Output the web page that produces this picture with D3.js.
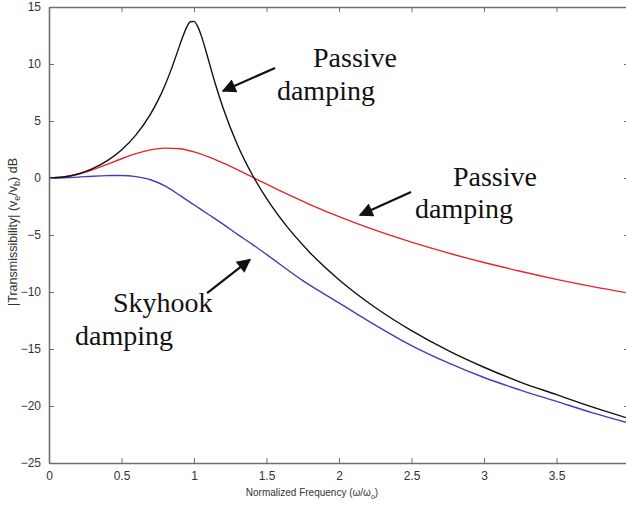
<!DOCTYPE html>
<html>
<head>
<meta charset="utf-8">
<script src="https://cdn.jsdelivr.net/npm/d3@7"></script>
<style>
  body { margin: 0; background: #fff; }
  svg { display: block; }
</style>
</head>
<body>
<div id="chart"></div>
<script>
const width = 626;
const height = 505;

// normalized frequency (omega / omega_0) and transmissibility in dB
const passiveLightFreq = [0, 0.1, 0.2, 0.3, 0.4, 0.5, 0.6, 0.7, 0.75, 0.8, 0.85, 0.9, 0.925, 0.95, 0.975, 1.0,
  1.025, 1.05, 1.075, 1.1, 1.15, 1.2, 1.3, 1.4, 1.5, 1.6, 1.8, 2.0, 2.25, 2.5, 2.75, 3.0, 3.25, 3.5, 3.75, 4.0];
const passiveLightDb = [0, 0.09, 0.35, 0.82, 1.5, 2.46, 3.78, 5.6, 6.76, 8.14, 9.77, 11.59, 12.48, 13.24, 13.71, 13.74,
  13.3, 12.49, 11.46, 10.34, 8.14, 6.17, 2.9, 0.33, -1.79, -3.59, -6.55, -8.92, -11.36, -13.39, -15.12, -16.6, -17.9, -19.0, -20.1, -21.1];

const passiveHeavyFreq = [0, 0.1, 0.2, 0.3, 0.4, 0.5, 0.6, 0.7, 0.8, 0.9, 1.0, 1.1, 1.2, 1.4, 1.6, 1.8, 2.0,
  2.25, 2.5, 2.75, 3.0, 3.25, 3.5, 3.75, 4.0];
const passiveHeavyDb = [0, 0.09, 0.33, 0.72, 1.19, 1.69, 2.14, 2.47, 2.62, 2.56, 2.29, 1.86, 1.32, 0.09, -1.16, -2.33, -3.39,
  -4.58, -5.63, -6.57, -7.41, -8.18, -8.89, -9.53, -10.1];

const skyhookFreq = [0, 0.1, 0.2, 0.3, 0.4, 0.5, 0.6, 0.7, 0.8, 0.9, 1.0, 1.1, 1.2, 1.3, 1.4, 1.5, 1.75, 2.0,
  2.25, 2.5, 2.75, 3.0, 3.25, 3.5, 3.75, 4.0];
const skyhookDb = [0, 0.02, 0.08, 0.16, 0.21, 0.22, 0.12, -0.15, -0.7, -1.5, -2.35, -3.2, -4.05, -4.95, -5.8, -6.7, -9.0, -10.95,
  -12.9, -14.7, -16.2, -17.5, -18.6, -19.6, -20.6, -21.5];

const xTicks = [0, 0.5, 1, 1.5, 2, 2.5, 3, 3.5];
const yTicks = [15, 10, 5, 0, -5, -10, -15, -20, -25];

const x = d3.scaleLinear().domain([0, 4]).range([49, 629]);
const y = d3.scaleLinear().domain([-25, 15]).range([463, 7]);

const svg = d3.select("#chart").append("svg")
  .attr("width", width)
  .attr("height", height);

svg.append("defs").append("clipPath")
  .attr("id", "plot-clip")
  .append("rect")
    .attr("x", x(0))
    .attr("y", y(15))
    .attr("width", x(4) - x(0))
    .attr("height", y(-25) - y(15));

const marker = svg.select("defs").append("marker")
  .attr("id", "arrowhead")
  .attr("viewBox", "0 0 10 10")
  .attr("refX", 9)
  .attr("refY", 5)
  .attr("markerUnits", "userSpaceOnUse")
  .attr("markerWidth", 17)
  .attr("markerHeight", 14)
  .attr("orient", "auto");
marker.append("path")
  .attr("d", "M0,0 L10,5 L0,10 z")
  .attr("fill", "#111");

const axisColor = "#6f6f6f";

// curves
const line = d3.line()
  .x(d => x(d[0]))
  .y(d => y(d[1]))
  .curve(d3.curveMonotoneX);

const series = [
  { freq: passiveHeavyFreq, db: passiveHeavyDb, color: "#e3262c" },
  { freq: skyhookFreq, db: skyhookDb, color: "#3f3fb8" },
  { freq: passiveLightFreq, db: passiveLightDb, color: "#111" }
];

svg.append("g")
  .attr("clip-path", "url(#plot-clip)")
  .selectAll("path")
  .data(series)
  .join("path")
    .attr("fill", "none")
    .attr("stroke", d => d.color)
    .attr("stroke-width", 1.4)
    .attr("d", d => line(d.freq.map((f, i) => [f, d.db[i]])));

// axes, MATLAB style box with inward ticks
const bottomAxis = svg.append("g")
  .attr("transform", `translate(0,${y(-25)})`)
  .call(d3.axisBottom(x).tickValues(xTicks).tickSizeInner(-5).tickSizeOuter(0).tickPadding(8).tickFormat(d3.format("")));
const topAxis = svg.append("g")
  .attr("transform", `translate(0,${y(15)})`)
  .call(d3.axisTop(x).tickValues(xTicks).tickSizeInner(-5).tickSizeOuter(0).tickFormat(""));
const leftAxis = svg.append("g")
  .attr("transform", `translate(${x(0)},0)`)
  .call(d3.axisLeft(y).tickValues(yTicks).tickSizeInner(-5).tickSizeOuter(0).tickPadding(8).tickFormat(d3.format("")));
const rightAxis = svg.append("g")
  .attr("transform", `translate(${x(4)},0)`)
  .call(d3.axisRight(y).tickValues(yTicks).tickSizeInner(-5).tickSizeOuter(0).tickFormat(""));

[bottomAxis, topAxis, leftAxis, rightAxis].forEach(g => {
  g.select(".domain").attr("stroke", axisColor).attr("stroke-width", 1.6);
  g.selectAll(".tick line").attr("stroke", axisColor).attr("stroke-width", 1);
  g.selectAll(".tick text")
    .attr("fill", "#333")
    .style("font-family", "'Liberation Sans', Arial, sans-serif")
    .style("font-size", "12px");
});
leftAxis.selectAll(".tick text").text(d => d < 0 ? "\u2212" + Math.abs(d) : d);

// axis titles
const xTitle = svg.append("text")
  .attr("x", 312)
  .attr("y", 496)
  .attr("text-anchor", "middle")
  .attr("fill", "#333")
  .style("font-family", "'Liberation Sans', Arial, sans-serif")
  .style("font-size", "10px");
xTitle.append("tspan").text("Normalized Frequency  (\u03c9/\u03c9");
xTitle.append("tspan").attr("dy", 3).style("font-size", "7px").text("o");
xTitle.append("tspan").attr("dy", -3).text(")");

const yTitle = svg.append("text")
  .attr("transform", "translate(17,232) rotate(-90)")
  .attr("text-anchor", "middle")
  .attr("fill", "#333")
  .style("font-family", "'Liberation Sans', Arial, sans-serif")
  .style("font-size", "12.5px");
yTitle.append("tspan").text("|Transmissibility| (v");
yTitle.append("tspan").attr("dy", 3).style("font-size", "9px").text("e");
yTitle.append("tspan").attr("dy", -3).text("/v");
yTitle.append("tspan").attr("dy", 3).style("font-size", "9px").text("b");
yTitle.append("tspan").attr("dy", -3).text(") dB");

// annotations, placed in data units
const labels = [
  { text: "Passive", f: 1.821, db: 9.78 },
  { text: "damping", f: 1.572, db: 6.84 },
  { text: "Passive", f: 2.786, db: -0.68 },
  { text: "damping", f: 2.524, db: -3.51 },
  { text: "Skyhook", f: 0.441, db: -11.73 },
  { text: "damping", f: 0.179, db: -14.65 }
];
const arrows = [
  { from: [1.559, 9.65], to: [1.2, 7.63] },
  { from: [2.497, -1.23], to: [2.145, -3.25] },
  { from: [1.09, -10.09], to: [1.386, -7.15] }
];

svg.append("g")
  .selectAll("text")
  .data(labels)
  .join("text")
    .attr("x", d => x(d.f))
    .attr("y", d => y(d.db))
    .attr("fill", "#111")
    .style("font-family", "'Liberation Serif', 'Times New Roman', serif")
    .style("font-size", "28px")
    .text(d => d.text);

svg.append("g")
  .selectAll("line")
  .data(arrows)
  .join("line")
    .attr("x1", d => x(d.from[0]))
    .attr("y1", d => y(d.from[1]))
    .attr("x2", d => x(d.to[0]))
    .attr("y2", d => y(d.to[1]))
    .attr("stroke", "#111")
    .attr("stroke-width", 2.2)
    .attr("marker-end", "url(#arrowhead)");
</script>
</body>
</html>
